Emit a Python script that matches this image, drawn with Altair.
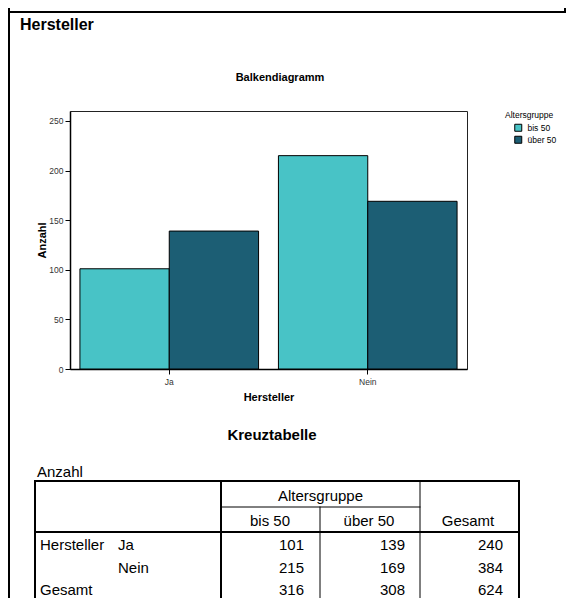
import altair as alt
import pandas as pd

# ---------------- data ----------------
hersteller = ["Ja", "Nein"]
altersgruppen = ["bis 50", "über 50"]
anzahl_bis_50 = [101, 215]
anzahl_ueber_50 = [139, 169]
y_ticks = [0, 50, 100, 150, 200, 250]
farben = ["#48C3C6", "#1C5E74"]

rows = []
for i, h in enumerate(hersteller):
    rows.append({"Hersteller": h, "Altersgruppe": altersgruppen[0], "Anzahl": anzahl_bis_50[i]})
    rows.append({"Hersteller": h, "Altersgruppe": altersgruppen[1], "Anzahl": anzahl_ueber_50[i]})
df = pd.DataFrame(rows)

row_totals = [a + b for a, b in zip(anzahl_bis_50, anzahl_ueber_50)]
col_totals = [sum(anzahl_bis_50), sum(anzahl_ueber_50)]
grand_total = sum(row_totals)

# ---------------- layout ----------------
FONT = "Liberation Sans"
W, H = 397, 258
OX, OY = 70, 111  # page position of the plot area's top-left corner
TOTAL_W, TOTAL_H = 558, 590
PAD = {"left": OX - 8, "top": OY - 8,
       "right": TOTAL_W - (OX - 8) - W, "bottom": TOTAL_H - (OY - 8) - H}


def gx(x):
    return x - OX


def gy(y):
    return y - OY


T_LEFT, T_RIGHT = 35, 519
T_TOP, T_BOTTOM = 481, 640
C1, C2, C3 = 221, 320, 420
HDR1, HDR2 = 507, 532
ROW_Y = [545, 568, 590]
COL_RIGHT = [304, 405, 503]
COL_CENTER = [270, 369, 468]

# ---------------- bar chart ----------------
bars = alt.Chart(df).mark_bar(stroke="black", strokeWidth=1, opacity=1).encode(
    x=alt.X(
        "Hersteller:N",
        sort=hersteller,
        scale=alt.Scale(paddingInner=0.1, paddingOuter=0.05),
        axis=alt.Axis(
            title="Hersteller", labelAngle=0, labelFontSize=8.5, labelColor="#333",
            labelFont=FONT, labelPadding=3, tickSize=5, tickColor="black",
            domainColor="black", domainWidth=1.5, grid=False,
            titleFont=FONT, titleFontSize=11, titleFontWeight="bold", titleColor="black",
            titleX=W / 2, titleY=28, titleBaseline="middle", titleAlign="center",
        ),
    ),
    xOffset=alt.XOffset("Altersgruppe:N", sort=altersgruppen,
                        scale=alt.Scale(paddingInner=0, paddingOuter=0)),
    y=alt.Y(
        "Anzahl:Q",
        scale=alt.Scale(domain=[0, 260], nice=False),
        axis=alt.Axis(
            title="Anzahl", values=y_ticks, labelFontSize=8.5, labelColor="#333",
            labelFont=FONT, labelPadding=2, tickSize=5, tickColor="black",
            domainColor="black", domainWidth=1.5, grid=False,
            titleFont=FONT, titleFontSize=11, titleFontWeight="bold", titleColor="black",
            titleX=gx(42), titleY=H / 2, titleBaseline="middle", titleAlign="center",
        ),
    ),
    color=alt.Color(
        "Altersgruppe:N",
        sort=altersgruppen,
        scale=alt.Scale(domain=altersgruppen, range=farben),
        legend=alt.Legend(
            title="Altersgruppe", orient="none", legendX=gx(505), legendY=gy(111),
            titleFont=FONT, titleFontSize=8.5, titleFontWeight="normal", titleColor="black",
            titlePadding=4, labelFont=FONT, labelFontSize=8.5,
            labelColor="black", labelOffset=5, symbolType="square", symbolSize=49,
            symbolOffset=9, symbolStrokeColor="black", symbolStrokeWidth=1,
            symbolOpacity=1, rowPadding=0, padding=0,
        ),
    ),
)

# ---------------- frame and table lines ----------------
lines = [
    # page frame
    (9, 9, 8, 640, 2),
    (8, 580, 12, 12, 2),
    (565, 565, 8, 12, 2),
    # cross table
    (T_LEFT, T_RIGHT, T_TOP, T_TOP, 2),
    (T_LEFT, T_LEFT, T_TOP, T_BOTTOM, 2),
    (T_RIGHT, T_RIGHT, T_TOP, T_BOTTOM, 2),
    (C1, C1, T_TOP, T_BOTTOM, 2),
    (T_LEFT, T_RIGHT, HDR2, HDR2, 2),
    (C1, C3, HDR1, HDR1, 1),
    (C2, C2, HDR1, T_BOTTOM, 1),
    (C3, C3, T_TOP, T_BOTTOM, 1),
]
lines_df = pd.DataFrame(
    [{"x": gx(a), "x2": gx(b), "y": gy(c), "y2": gy(d), "w": w} for a, b, c, d, w in lines]
)
rules = alt.Chart(lines_df).mark_rule(color="black", strokeCap="square").encode(
    x=alt.X("x:Q", scale=None, axis=None),
    x2="x2:Q",
    y=alt.Y("y:Q", scale=None, axis=None),
    y2="y2:Q",
    size=alt.Size("w:Q", scale=None, legend=None),
)


def text_layer(items, align, size, weight="normal"):
    d = pd.DataFrame([{"t": t, "x": gx(x), "y": gy(y)} for t, x, y in items])
    return alt.Chart(d).mark_text(
        align=align, baseline="middle", font=FONT, fontSize=size,
        fontWeight=weight, color="black",
    ).encode(
        x=alt.X("x:Q", scale=None, axis=None),
        y=alt.Y("y:Q", scale=None, axis=None),
        text="t:N",
    )


left_items = [("Anzahl", 37, 472), ("Hersteller", 40, ROW_Y[0]), ("Gesamt", 40, ROW_Y[2])]
left_items += [(h, 118, ROW_Y[i]) for i, h in enumerate(hersteller)]
center_items = [("Altersgruppe", (C1 + C3) / 2, 496)]
center_items += [(g, COL_CENTER[i], 521) for i, g in enumerate(altersgruppen)]
center_items += [("Gesamt", COL_CENTER[2], 521)]
right_items = []
for i in range(len(hersteller)):
    right_items += [
        (str(anzahl_bis_50[i]), COL_RIGHT[0], ROW_Y[i]),
        (str(anzahl_ueber_50[i]), COL_RIGHT[1], ROW_Y[i]),
        (str(row_totals[i]), COL_RIGHT[2], ROW_Y[i]),
    ]
right_items += [
    (str(col_totals[0]), COL_RIGHT[0], ROW_Y[2]),
    (str(col_totals[1]), COL_RIGHT[1], ROW_Y[2]),
    (str(grand_total), COL_RIGHT[2], ROW_Y[2]),
]

t_left = text_layer(left_items, "left", 15)
t_center = text_layer(center_items, "center", 15)
t_right = text_layer(right_items, "right", 15)
t_heading = text_layer([("Hersteller", 20, 25)], "left", 16, "bold")
t_table_title = text_layer([("Kreuztabelle", 272, 435)], "center", 15, "bold")
t_chart_title = text_layer([("Balkendiagramm", 280, 78)], "center", 11, "bold")

chart = (
    alt.layer(bars, rules, t_left, t_center, t_right, t_heading, t_table_title, t_chart_title)
    .properties(
        width=W,
        height=H,
        autosize=alt.AutoSizeParams(type="none"),
        padding=PAD,
        background="white",
    )
    .configure_view(stroke="#222", strokeWidth=1)
)

chart.save("out.html", embed_options={"renderer": "svg", "actions": False})
